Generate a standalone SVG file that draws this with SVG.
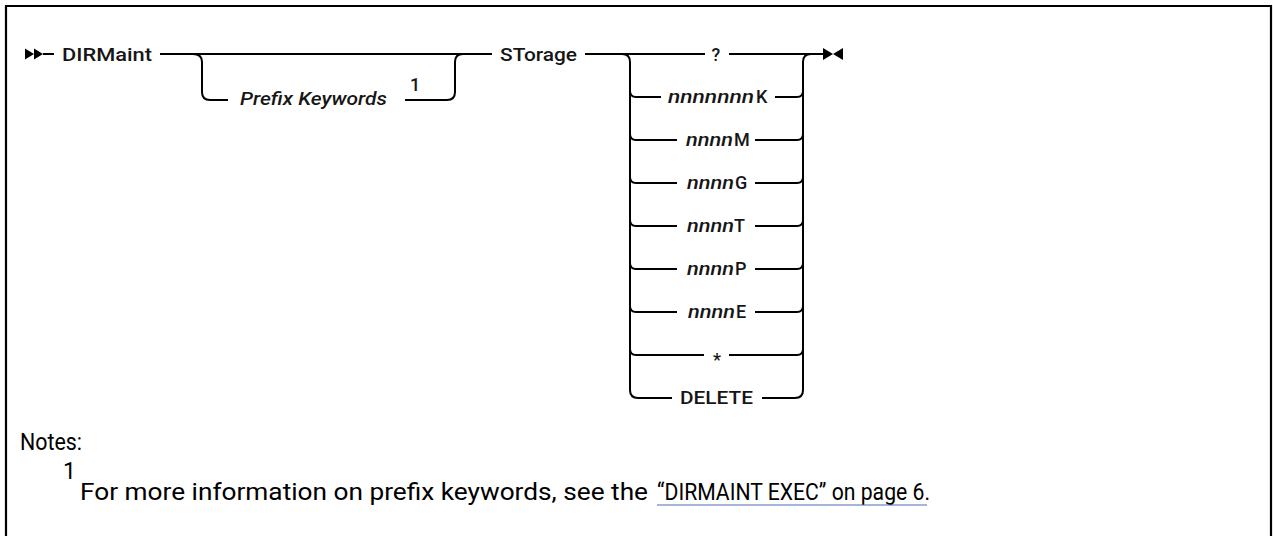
<svg xmlns="http://www.w3.org/2000/svg" width="1273" height="536" viewBox="0 0 1273 536">
<style>
.ln{fill:none;stroke:#000;stroke-width:2;}
.t{font-family:Roboto,"Liberation Sans",Arial,sans-serif;font-weight:500;font-size:18px;fill:#161616;}
.i{font-style:italic;}
.n{font-family:Roboto,"Liberation Sans",Arial,sans-serif;font-size:23px;fill:#000;}
.ar{fill:#000;}
</style>
<rect width="1273" height="536" fill="#fff"/>
<path d="M6,536 V6 H1271 V536" fill="none" stroke="#000" stroke-width="2.2"/>

<g id="connectors">
  <!-- start arrows -->
  <polygon class="ar" points="25,48.5 34,54 25,59.5"/>
  <polygon class="ar" points="34,48.5 43,54 34,59.5"/>
  <path class="ln" d="M43,54 H54"/>
  <path class="ln" d="M160,54 H492"/>
  <path class="ln" d="M585,54 H705"/>
  <path class="ln" d="M729,54 H823"/>
  <!-- end arrows -->
  <polygon class="ar" points="823,48 833,54 823,60"/>
  <polygon class="ar" points="843,48 833,54 843,60"/>
  <!-- optional prefix keywords branch -->
  <path class="ln" d="M193,54 Q202,54 202,62 V92 Q202,100 210,100 H228"/>
  <path class="ln" d="M405,100 H447 Q455,100 455,92 V62 Q455,54 463,54"/>
  <!-- choice block left side -->
  <path class="ln" d="M622,54 Q630,54 630,62 V390 Q630,398 638,398 H672"/>
  <path class="ln" d="M630,91 Q630,97 636,97 H661"/>
  <path class="ln" d="M630,134 Q630,140 636,140 H677"/>
  <path class="ln" d="M630,177 Q630,183 636,183 H677"/>
  <path class="ln" d="M630,220 Q630,226 636,226 H677"/>
  <path class="ln" d="M630,263 Q630,269 636,269 H677"/>
  <path class="ln" d="M630,306 Q630,312 636,312 H677"/>
  <path class="ln" d="M630,349 Q630,355 636,355 H704"/>
  <!-- choice block right side -->
  <path class="ln" d="M762,398 H795 Q803,398 803,390 V62 Q803,54 811,54"/>
  <path class="ln" d="M775,97 H797 Q803,97 803,91"/>
  <path class="ln" d="M755,140 H797 Q803,140 803,134"/>
  <path class="ln" d="M755,183 H797 Q803,183 803,177"/>
  <path class="ln" d="M755,226 H797 Q803,226 803,220"/>
  <path class="ln" d="M755,269 H797 Q803,269 803,263"/>
  <path class="ln" d="M755,312 H797 Q803,312 803,306"/>
  <path class="ln" d="M729,355 H797 Q803,355 803,349"/>
</g>

<g id="node-dirmaint"><text class="t" x="62" y="60.5" textLength="90" lengthAdjust="spacingAndGlyphs">DIRMaint</text></g>
<g id="node-prefix">
  <text class="t i" x="240" y="105" textLength="147" lengthAdjust="spacingAndGlyphs">Prefix Keywords</text>
  <text class="t" x="415" y="91" text-anchor="middle" font-size="17">1</text>
</g>
<g id="node-storage"><text class="t" x="500" y="60.5" textLength="77" lengthAdjust="spacingAndGlyphs">STorage</text></g>
<g id="opt-q"><text class="t" x="716" y="60.5" text-anchor="middle">?</text></g>
<g id="opt-k"><text class="t i" x="668" y="103" textLength="86" lengthAdjust="spacingAndGlyphs">nnnnnnn</text><text class="t" x="756" y="103">K</text></g>
<g id="opt-m"><text class="t i" x="686" y="146" textLength="47" lengthAdjust="spacingAndGlyphs">nnnn</text><text class="t" x="734" y="146">M</text></g>
<g id="opt-g"><text class="t i" x="687" y="189" textLength="47" lengthAdjust="spacingAndGlyphs">nnnn</text><text class="t" x="735" y="189">G</text></g>
<g id="opt-t"><text class="t i" x="687" y="232" textLength="47" lengthAdjust="spacingAndGlyphs">nnnn</text><text class="t" x="734" y="232">T</text></g>
<g id="opt-p"><text class="t i" x="687" y="275" textLength="47" lengthAdjust="spacingAndGlyphs">nnnn</text><text class="t" x="735" y="275">P</text></g>
<g id="opt-e"><text class="t i" x="688" y="318" textLength="47" lengthAdjust="spacingAndGlyphs">nnnn</text><text class="t" x="736" y="318">E</text></g>
<g id="opt-star"><text class="t" x="717" y="366" text-anchor="middle" font-size="22">*</text></g>
<g id="opt-delete"><text class="t" x="680" y="404" textLength="73" lengthAdjust="spacingAndGlyphs">DELETE</text></g>

<g id="notes">
  <text class="n" x="20" y="450" textLength="62" lengthAdjust="spacingAndGlyphs">Notes:</text>
  <text class="n" x="63" y="479" font-size="14">1</text>
  <text class="n" x="80" y="500" textLength="568" lengthAdjust="spacingAndGlyphs">For more information on prefix keywords, see the</text>
  <text class="n" x="657" y="500" textLength="273" lengthAdjust="spacingAndGlyphs">“DIRMAINT EXEC” on page 6.</text>
  <line x1="657" y1="505" x2="927" y2="505" stroke="#4a6fb5" stroke-width="1.2"/>
</g>
</svg>
